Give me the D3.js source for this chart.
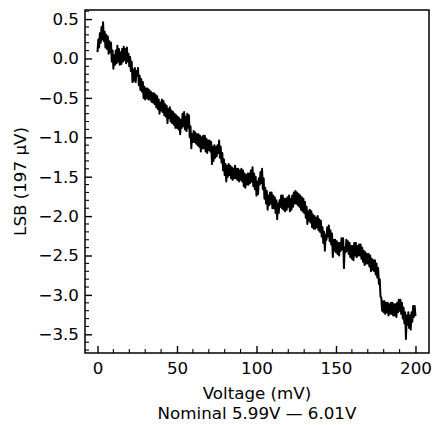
<!DOCTYPE html>
<html>
<head>
<meta charset="utf-8">
<script src="https://cdn.jsdelivr.net/npm/d3@7"></script>
<style>
  html, body { margin: 0; padding: 0; background: #fff; }
  svg { display: block; }
  text { font-family: "DejaVu Sans", sans-serif; fill: #000; }
</style>
</head>
<body>
<svg id="chart" width="432" height="425"></svg>
<script>
// ---- data ----
const voltage_mV = d3.range(0, 401).map(i => i / 2); // 0..200 mV, sample every 0.5 mV
const lsb = [
  0.08, 0.24, 0.14, 0.32, 0.20, 0.40, 0.24, 0.46, 0.22, 0.34,
  0.14, 0.30, 0.12, 0.28, 0.06, 0.22, 0.08, 0.20, -0.04, 0.10,
  -0.13, 0.04, -0.08, 0.10, -0.06, 0.16, -0.04, 0.12, -0.08, 0.08,
  -0.07, 0.12, -0.04, 0.15, -0.02, 0.12, -0.06, 0.14, -0.04, 0.06,
  -0.10, 0.02, -0.16, -0.04, -0.30, -0.14, -0.28, -0.12, -0.30, -0.16,
  -0.22, -0.12, -0.34, -0.22, -0.40, -0.26, -0.42, -0.30, -0.50, -0.36,
  -0.52, -0.38, -0.50, -0.38, -0.52, -0.40, -0.52, -0.42, -0.55, -0.44,
  -0.56, -0.44, -0.58, -0.46, -0.62, -0.48, -0.64, -0.52, -0.70, -0.56,
  -0.66, -0.52, -0.68, -0.54, -0.72, -0.58, -0.74, -0.60, -0.82, -0.64,
  -0.76, -0.62, -0.80, -0.66, -0.82, -0.68, -0.84, -0.70, -0.88, -0.72,
  -0.88, -0.74, -0.90, -0.76, -0.96, -0.78, -0.88, -0.70, -0.86, -0.68,
  -0.90, -0.74, -0.92, -0.70, -0.88, -0.72, -1.00, -0.86, -1.14, -0.96,
  -1.06, -0.92, -1.06, -0.94, -1.08, -0.96, -1.10, -0.96, -1.12, -0.98,
  -1.18, -1.00, -1.14, -0.98, -1.14, -0.98, -1.18, -1.02, -1.20, -1.04,
  -1.16, -1.04, -1.18, -1.06, -1.34, -1.12, -1.30, -1.10, -1.26, -1.12,
  -1.24, -1.10, -1.20, -1.04, -1.26, -1.12, -1.32, -1.20, -1.42, -1.28,
  -1.48, -1.34, -1.56, -1.36, -1.50, -1.34, -1.48, -1.36, -1.52, -1.38,
  -1.54, -1.40, -1.52, -1.36, -1.52, -1.40, -1.54, -1.40, -1.56, -1.42,
  -1.54, -1.40, -1.56, -1.42, -1.62, -1.46, -1.64, -1.48, -1.60, -1.46,
  -1.60, -1.46, -1.58, -1.42, -1.56, -1.38, -1.62, -1.46, -1.66, -1.50,
  -1.74, -1.56, -1.72, -1.52, -1.60, -1.44, -1.58, -1.40, -1.66, -1.52,
  -1.78, -1.64, -1.84, -1.68, -1.92, -1.74, -1.86, -1.70, -1.84, -1.70,
  -1.90, -1.74, -1.90, -1.76, -1.96, -1.80, -2.04, -1.84, -1.96, -1.80,
  -1.88, -1.74, -1.90, -1.74, -1.92, -1.78, -1.94, -1.78, -1.92, -1.76,
  -1.88, -1.74, -1.94, -1.78, -1.92, -1.74, -1.88, -1.70, -1.84, -1.68,
  -1.84, -1.70, -1.86, -1.72, -1.88, -1.74, -1.92, -1.76, -1.94, -1.78,
  -1.96, -1.82, -2.02, -1.88, -2.10, -1.94, -2.06, -1.92, -2.08, -1.94,
  -2.14, -1.98, -2.16, -2.00, -2.16, -2.02, -2.14, -2.00, -2.18, -2.04,
  -2.20, -2.06, -2.26, -2.14, -2.34, -2.20, -2.44, -2.24, -2.30, -2.14,
  -2.26, -2.12, -2.32, -2.18, -2.36, -2.22, -2.52, -2.30, -2.44, -2.30,
  -2.46, -2.32, -2.48, -2.34, -2.50, -2.34, -2.44, -2.28, -2.42, -2.28,
  -2.66, -2.40, -2.46, -2.30, -2.44, -2.32, -2.48, -2.34, -2.52, -2.38,
  -2.54, -2.38, -2.56, -2.34, -2.50, -2.34, -2.52, -2.38, -2.50, -2.36,
  -2.50, -2.36, -2.54, -2.40, -2.58, -2.44, -2.62, -2.46, -2.60, -2.48,
  -2.60, -2.48, -2.64, -2.50, -2.70, -2.54, -2.68, -2.56, -2.70, -2.56,
  -2.74, -2.60, -2.78, -2.66, -2.86, -2.80, -3.02, -3.04, -3.20, -3.08,
  -3.22, -3.08, -3.24, -3.10, -3.22, -3.10, -3.26, -3.12, -3.24, -3.10,
  -3.24, -3.10, -3.26, -3.12, -3.26, -3.12, -3.28, -3.10, -3.22, -3.06,
  -3.20, -3.06, -3.24, -3.10, -3.30, -3.16, -3.36, -3.22, -3.56, -3.26,
  -3.38, -3.22, -3.42, -3.26, -3.44, -3.22, -3.34, -3.14, -3.28, -3.14,
  -3.27
];
const xTicks = [0, 50, 100, 150, 200];
const yTicks = [0.5, 0.0, -0.5, -1.0, -1.5, -2.0, -2.5, -3.0, -3.5];
const xLabel = "Voltage (mV)";
const xLabel2 = "Nominal 5.99V \u2014 6.01V";
const yLabel = "LSB (197 \u00b5V)";

// ---- layout ----
const FS = 16.7;
const plot = { left: 85, right: 429, top: 10, bottom: 353 };
const svg = d3.select("#chart");

const x = d3.scaleLinear().domain([-7.86, 208.5]).range([plot.left, plot.right]);
const y = d3.scaleLinear().domain([0.615, -3.737]).range([plot.top, plot.bottom]);

const fmt = d3.format(".1f");

svg.append("clipPath").attr("id", "clip")
  .append("rect").attr("x", plot.left).attr("y", plot.top)
  .attr("width", plot.right - plot.left).attr("height", plot.bottom - plot.top);

// data line
const pts = voltage_mV.map((v, i) => [v, lsb[i]]);
svg.append("path")
  .datum(pts)
  .attr("clip-path", "url(#clip)")
  .attr("fill", "none")
  .attr("stroke", "#000")
  .attr("stroke-width", 2)
  .attr("stroke-linejoin", "round")
  .attr("d", d3.line().x(d => x(d[0])).y(d => y(d[1])));

// x axis (ticks inside)
const xAxis = d3.axisBottom(x).tickValues(xTicks).tickFormat(d3.format("d"))
  .tickSizeInner(-7).tickSizeOuter(0).tickPadding(16);
const gx = svg.append("g").attr("transform", `translate(0,${plot.bottom})`).call(xAxis);
gx.select(".domain").remove();
gx.selectAll(".tick line").attr("stroke-width", 1.4);
gx.selectAll("text").style("font-size", FS + "px").attr("dy", "0.71em").attr("y", 9);

const xMinor = d3.range(0, 210, 10).filter(v => v % 50 !== 0);
svg.append("g").selectAll("line").data(xMinor).join("line")
  .attr("x1", d => x(d)).attr("x2", d => x(d))
  .attr("y1", plot.bottom).attr("y2", plot.bottom - 4)
  .attr("stroke", "#000").attr("stroke-width", 1.1);

// y axis
const yAxis = d3.axisLeft(y).tickValues(yTicks).tickFormat(fmt)
  .tickSizeInner(-7).tickSizeOuter(0).tickPadding(14);
const gy = svg.append("g").attr("transform", `translate(${plot.left},0)`).call(yAxis);
gy.select(".domain").remove();
gy.selectAll(".tick line").attr("stroke-width", 1.4);
gy.selectAll("text").style("font-size", FS + "px").attr("x", -6);

const yMinor = d3.range(-37, 7, 1).map(v => v / 10).filter(v => Math.abs(Math.round(v * 10)) % 5 !== 0);
svg.append("g").selectAll("line").data(yMinor).join("line")
  .attr("x1", plot.left).attr("x2", plot.left + 4)
  .attr("y1", d => y(d)).attr("y2", d => y(d))
  .attr("stroke", "#000").attr("stroke-width", 1.1);

// frame
svg.append("rect")
  .attr("x", plot.left).attr("y", plot.top)
  .attr("width", plot.right - plot.left).attr("height", plot.bottom - plot.top)
  .attr("fill", "none").attr("stroke", "#000").attr("stroke-width", 1.5);

// labels
const cx = (plot.left + plot.right) / 2;
svg.append("text").attr("x", cx).attr("y", 399).attr("text-anchor", "middle")
  .style("font-size", FS + "px").text(xLabel);
svg.append("text").attr("x", cx).attr("y", 418.5).attr("text-anchor", "middle")
  .style("font-size", FS + "px").text(xLabel2);
svg.append("text")
  .attr("transform", `translate(26,${(plot.top + plot.bottom) / 2}) rotate(-90)`)
  .attr("text-anchor", "middle")
  .style("font-size", FS + "px").text(yLabel);
</script>
</body>
</html>
